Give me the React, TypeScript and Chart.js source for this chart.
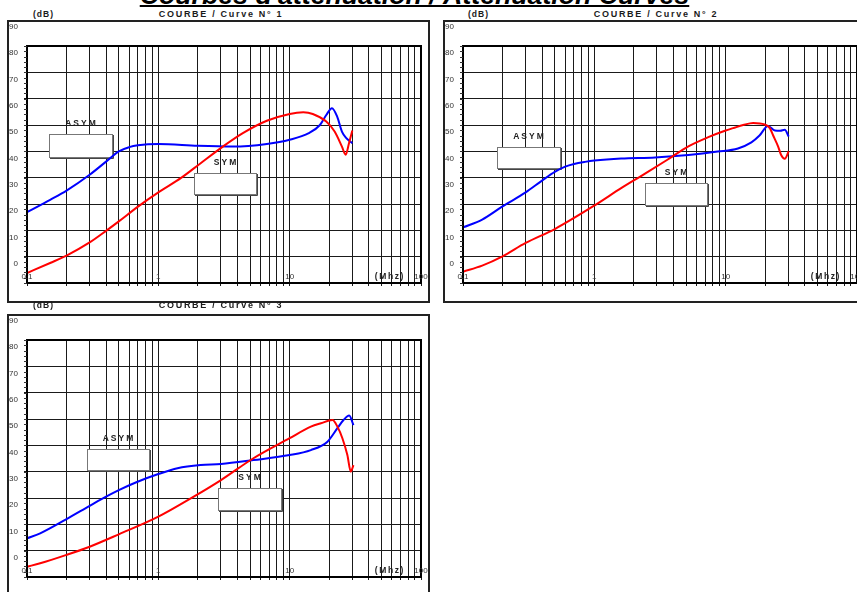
import React, { useEffect, useRef } from "react";
import { Chart, registerables } from "chart.js";

Chart.register(...registerables);

const FONT = "'Liberation Sans', Arial, sans-serif";
Chart.defaults.font.family = FONT;

// ---- Data (frequency in MHz, attenuation in dB) ----
const CURVE1_ASYM_FREQ = [0.1, 0.15, 0.2, 0.3, 0.4, 0.5, 0.6, 0.7, 1, 2, 3.7, 6.7, 10, 14, 17, 19, 21, 23, 25, 27, 30];
const CURVE1_ASYM_DB = [16.9, 21.6, 25.1, 31.1, 36.1, 40, 41.6, 42.3, 42.8, 42.1, 41.8, 42.8, 44.4, 46.9, 50, 53.8, 56.4, 53.2, 47.5, 45, 43.1];
const CURVE1_SYM_FREQ = [0.1, 0.15, 0.2, 0.3, 0.4, 0.5, 0.7, 1, 1.5, 2.1, 3.1, 4.4, 6.7, 10, 12.7, 15, 19, 22, 25, 26.7, 28.3, 30];
const CURVE1_SYM_DB = [-6.2, -2.4, 0.4, 5.4, 9.8, 13.4, 19, 24.4, 30, 35.5, 41.8, 46.9, 51.6, 54.2, 54.8, 54.2, 51.3, 47.5, 41.8, 38.7, 43.1, 47.9];

const CURVE2_ASYM_FREQ = [0.1, 0.14, 0.2, 0.3, 0.4, 0.5, 0.6, 0.7, 0.85, 1, 1.6, 2.9, 5.2, 8.7, 12.4, 15.7, 18.1, 21, 23.7, 26, 28.2, 30.2];
const CURVE2_ASYM_DB = [11.1, 14.1, 19.1, 24.4, 28.9, 32.2, 34.2, 35.2, 36, 36.5, 37.3, 37.7, 38.6, 39.9, 41.1, 43.4, 46, 49.6, 47.9, 47.8, 48.2, 45.6];
const CURVE2_SYM_FREQ = [0.1, 0.14, 0.2, 0.3, 0.5, 1, 1.6, 2.3, 3.6, 5.2, 7.3, 10, 11.4, 13.6, 16.2, 19.8, 21.7, 23, 25.1, 26.5, 28.2, 30.2];
const CURVE2_SYM_DB = [-5.7, -3.4, 0.1, 5.2, 10.5, 19.4, 26, 30.8, 36.8, 41.9, 45.3, 47.9, 48.8, 50, 50.8, 50.2, 48.8, 46, 41.8, 38.5, 37.2, 40];

const CURVE3_ASYM_FREQ = [0.1, 0.126, 0.2, 0.3, 0.4, 0.5, 0.68, 1, 1.4, 2.1, 3, 5.3, 10, 14.5, 19.4, 23.1, 25.7, 28.4, 30.6];
const CURVE3_ASYM_DB = [4.7, 6.6, 12, 17, 20.5, 23, 26, 29.1, 31.3, 32.5, 32.9, 34.4, 36.3, 38.2, 41.4, 46.5, 49.6, 51.3, 47.7];
const CURVE3_SYM_FREQ = [0.1, 0.126, 0.2, 0.3, 0.5, 1, 1.86, 3, 5.3, 10, 14.5, 17.3, 21.2, 23.1, 25.2, 27.5, 29.2, 30.6];
const CURVE3_SYM_DB = [-6.1, -4.8, -1.6, 1.5, 6.2, 12.9, 20.5, 26.8, 35.1, 42.7, 47.1, 48.4, 49.6, 47.1, 42.7, 36.3, 30, 32.5];

// ---- Axis ticks ----
const X_GRID = [0.1, 0.2, 0.3, 0.4, 0.5, 0.6, 0.7, 0.8, 0.9, 1, 2, 3, 4, 5, 6, 7, 8, 9, 10, 20, 30, 40, 50, 60, 70, 80, 90, 100];
const X_LABEL_VALUES = [0.1, 1, 10, 100];
const X_LABEL_TEXT = ["0.1", "1", "10", "100"];
const Y_MIN = -10;
const Y_MAX = 80;
const Y_STEP = 10;
const Y_MINOR_STEP = 2;
const Y_EXTRA_LABEL = "90";
const X_UNIT = "(Mhz)";

// ---- Legend boxes (data coordinates) ----
const NOTES1 = [
  { label: "ASYM", f0: 0.148, f1: 0.444, v0: 38, v1: 46.5 },
  { label: "SYM", f0: 1.88, f1: 5.55, v0: 23.9, v1: 31.7 },
];
const NOTES2 = [
  { label: "ASYM", f0: 0.1815, f1: 0.546, v0: 33.6, v1: 41.8 },
  { label: "SYM", f0: 2.42, f1: 7.21, v0: 19.7, v1: 27.9 },
];
const NOTES3 = [
  { label: "ASYM", f0: 0.285, f1: 0.854, v0: 30.6, v1: 38.7 },
  { label: "SYM", f0: 2.86, f1: 8.55, v0: 15.5, v1: 23.8 },
];

type Note = { label: string; f0: number; f1: number; v0: number; v1: number };

const W = 423;
const H = 283;

function makeDecor(notes: Note[]) {
  return {
    id: "decor",
    beforeDatasetsDraw(chart: any) {
      const { ctx, scales } = chart;
      const x = scales.x;
      const y = scales.y;
      ctx.save();
      for (const n of notes) {
        const l = Math.round(x.getPixelForValue(n.f0));
        const r = Math.round(x.getPixelForValue(n.f1));
        const t = Math.round(y.getPixelForValue(n.v1));
        const b = Math.round(y.getPixelForValue(n.v0));
        ctx.fillStyle = "#ffffff";
        ctx.fillRect(l, t, r - l, b - t);
        ctx.strokeStyle = "#777";
        ctx.lineWidth = 1;
        ctx.strokeRect(l + 0.5, t + 0.5, r - l, b - t);
        ctx.strokeStyle = "#444";
        ctx.beginPath();
        ctx.moveTo(l + 1, b + 1.5);
        ctx.lineTo(r + 1.5, b + 1.5);
        ctx.lineTo(r + 1.5, t + 1);
        ctx.stroke();
        ctx.fillStyle = "#222";
        ctx.font = `bold 8.5px ${FONT}`;
        (ctx as any).letterSpacing = "2px";
        ctx.textAlign = "center";
        ctx.textBaseline = "middle";
        ctx.fillText(n.label, (l + r) / 2 + 1, t - 10);
      }
      ctx.restore();
    },
    afterDraw(chart: any) {
      const { ctx, chartArea: a, scales } = chart;
      const x = scales.x;
      const y = scales.y;
      ctx.save();
      // outer frame
      ctx.strokeStyle = "#222";
      ctx.lineWidth = 2;
      ctx.strokeRect(1, 1, chart.width - 2, chart.height - 2);
      // plot frame
      ctx.strokeStyle = "#000";
      ctx.lineWidth = 2;
      ctx.strokeRect(a.left, a.top, a.right - a.left, a.bottom - a.top);
      // minor ticks on the value axis
      ctx.lineWidth = 1;
      ctx.strokeStyle = "#333";
      ctx.beginPath();
      for (let v = Y_MIN; v <= Y_MAX; v += Y_MINOR_STEP) {
        const py = Math.round(y.getPixelForValue(v)) + 0.5;
        ctx.moveTo(a.left - 3, py);
        ctx.lineTo(a.left, py);
      }
      ctx.stroke();
      // extra top label
      const step = y.getPixelForValue(Y_MAX - Y_STEP) - y.getPixelForValue(Y_MAX);
      ctx.fillStyle = "#333";
      ctx.font = `8px ${FONT}`;
      ctx.textAlign = "right";
      ctx.textBaseline = "middle";
      ctx.fillText(Y_EXTRA_LABEL, a.left - 9, y.getPixelForValue(Y_MAX) - step + 7);
      // frequency labels inside the plot
      ctx.textAlign = "center";
      X_LABEL_VALUES.forEach((v, i) => {
        ctx.fillText(X_LABEL_TEXT[i], x.getPixelForValue(v), a.bottom - 6.5);
      });
      // unit label
      ctx.font = `bold 8.5px ${FONT}`;
      (ctx as any).letterSpacing = "1.6px";
      ctx.fillStyle = "#222";
      ctx.textAlign = "right";
      ctx.fillText(X_UNIT, a.right - 16, a.bottom - 6.5);
      ctx.restore();
    },
  };
}

type PanelProps = {
  left: number;
  top: number;
  asymF: number[];
  asymV: number[];
  symF: number[];
  symV: number[];
  notes: Note[];
};

function Panel({ left, top, asymF, asymV, symF, symV, notes }: PanelProps) {
  const ref = useRef<HTMLCanvasElement>(null);
  useEffect(() => {
    const chart = new Chart(ref.current as HTMLCanvasElement, {
      type: "line",
      data: {
        datasets: [
          {
            label: "SYM",
            data: symF.map((f, i) => ({ x: f, y: symV[i] })),
            borderColor: "#ff0000",
            borderWidth: 2,
            pointRadius: 0,
            cubicInterpolationMode: "monotone",
            order: 1,
          },
          {
            label: "ASYM",
            data: asymF.map((f, i) => ({ x: f, y: asymV[i] })),
            borderColor: "#0000ff",
            borderWidth: 2,
            pointRadius: 0,
            cubicInterpolationMode: "monotone",
            order: 2,
          },
        ],
      },
      options: {
        animation: false,
        responsive: false,
        layout: { padding: { top: 26, right: 9, left: 0, bottom: 0 } },
        plugins: {
          legend: { display: false },
          title: { display: false },
          tooltip: { enabled: false },
        },
        scales: {
          x: {
            type: "logarithmic",
            min: 0.1,
            max: 100,
            afterBuildTicks: (s: any) => {
              s.ticks = X_GRID.map((v) => ({ value: v }));
            },
            afterFit: (s: any) => {
              s.height = 20;
            },
            grid: { color: "#1a1a1a", lineWidth: 1, drawTicks: true, tickLength: 3 },
            border: { display: false },
            ticks: { display: false, autoSkip: false },
          },
          y: {
            min: Y_MIN,
            max: Y_MAX,
            afterFit: (s: any) => {
              s.width = 20;
            },
            grid: { color: "#1a1a1a", lineWidth: 1, drawTicks: true, tickLength: 3 },
            border: { display: false },
            ticks: {
              stepSize: Y_STEP,
              padding: 6,
              labelOffset: 7,
              color: "#333",
              font: { size: 8 },
              callback: (v: any) => (Number(v) >= 0 ? String(v) : ""),
            },
          },
        },
      } as any,
      plugins: [makeDecor(notes)],
    });
    return () => chart.destroy();
  }, []);
  return (
    <canvas
      ref={ref}
      width={W}
      height={H}
      style={{ position: "absolute", left, top, width: W, height: H, display: "block" }}
    />
  );
}

const subStyle: React.CSSProperties = {
  position: "absolute",
  fontFamily: FONT,
  fontWeight: "bold",
  fontSize: 9,
  lineHeight: "9px",
  color: "#1a1a1a",
  whiteSpace: "nowrap",
};

function Sub({ boxLeft, cy, n }: { boxLeft: number; cy: number; n: number }) {
  return (
    <>
      <div style={{ ...subStyle, fontSize: 8.5, left: boxLeft + 26, top: cy - 4.5, letterSpacing: "1px" }}>(dB)</div>
      <div
        style={{
          ...subStyle,
          left: boxLeft + 214,
          top: cy - 4.5,
          letterSpacing: "1.7px",
          transform: "translateX(-50%)",
        }}
      >
        {`COURBE / Curve N° ${n}`}
      </div>
    </>
  );
}

export default function App() {
  return (
    <div
      style={{
        position: "fixed",
        left: 0,
        top: 0,
        width: 857,
        height: 592,
        overflow: "hidden",
        background: "#fff",
      }}
    >
      <div
        style={{
          position: "absolute",
          left: 414.5,
          top: -17.6,
          transform: "translateX(-50%)",
          fontFamily: FONT,
          fontStyle: "italic",
          fontWeight: "bold",
          fontSize: 26.7,
          lineHeight: "26.7px",
          whiteSpace: "nowrap",
          textDecoration: "underline",
          textDecorationThickness: "2px",
          color: "#000",
        }}
      >
        Courbes d'atténuation / Attenuation Curves
      </div>
      <Panel left={7} top={20} asymF={CURVE1_ASYM_FREQ} asymV={CURVE1_ASYM_DB} symF={CURVE1_SYM_FREQ} symV={CURVE1_SYM_DB} notes={NOTES1} />
      <Panel left={443} top={20} asymF={CURVE2_ASYM_FREQ} asymV={CURVE2_ASYM_DB} symF={CURVE2_SYM_FREQ} symV={CURVE2_SYM_DB} notes={NOTES2} />
      <Panel left={7} top={314} asymF={CURVE3_ASYM_FREQ} asymV={CURVE3_ASYM_DB} symF={CURVE3_SYM_FREQ} symV={CURVE3_SYM_DB} notes={NOTES3} />
      <Sub boxLeft={7} cy={14} n={1} />
      <Sub boxLeft={442} cy={14} n={2} />
      <Sub boxLeft={7} cy={305} n={3} />
    </div>
  );
}
